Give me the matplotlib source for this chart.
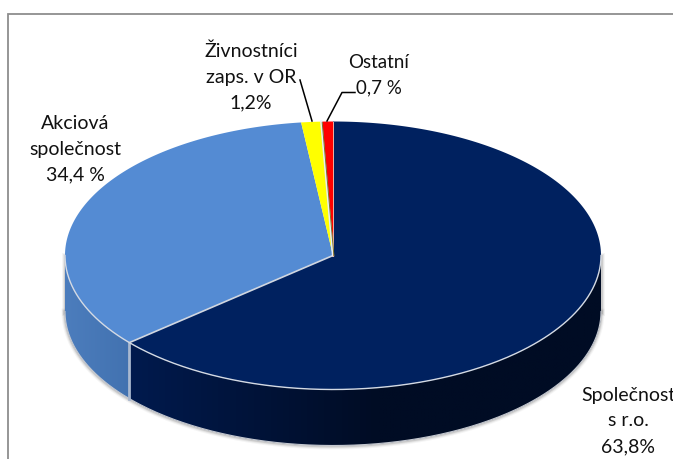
import numpy as np
import matplotlib
matplotlib.use("Agg")
import matplotlib.pyplot as plt
from matplotlib.colors import to_rgb

categories = ["Společnost\ns r.o.\n63,8%", "Akciová\nspolečnost\n34,4 %", "Živnostníci\nzaps. v OR\n1,2%", "Ostatní\n0,7 %"]
shares = [63.8, 34.4, 1.2, 0.7]
top_colors = ["#00215f", "#548bd3", "#ffff00", "#ff0000"]
side_left = ["#001a4e", "#4c7dbd", "#b0b000", "#b00000"]
side_right = ["#000c24", "#4272b0", "#b0b000", "#b00000"]

W, H = 673, 459
CX, CY, RX, RY, DEPTH = 333.0, 255.5, 268.0, 134.0, 56.0

fig = plt.figure(figsize=(W / 100, H / 100), dpi=100, facecolor="white")
ax = fig.add_axes([0, 0, 1, 1])
ax.axis("off")
plt.rcParams["font.family"] = ["Lato", "DejaVu Sans"]

# chart frame
ax.plot([8, 8, W + 5], [H + 5, 13.5, 13.5], color="#8e8e8e", lw=1.3, solid_joinstyle="miter", zorder=1)

fracs = np.array(shares) / np.sum(shares)
edges = np.concatenate([[0], np.cumsum(fracs)]) * 2 * np.pi


def ex(a):
    return CX + RX * np.sin(a)


def ey(a):
    return CY - RY * np.cos(a)


# soft shadow round the side wall
front = np.linspace(np.pi / 2, 3 * np.pi / 2, 300)
for lw, alpha in [(5, 0.06), (3.5, 0.10), (2, 0.18)]:
    ax.plot(ex(front), ey(front) + DEPTH + 0.5, color="#555555", alpha=alpha, lw=lw, zorder=2)
    ax.plot([ex(front[0])] * 2, [CY, CY + DEPTH], color="#555555", alpha=alpha, lw=lw, zorder=2)
    ax.plot([ex(front[-1])] * 2, [CY, CY + DEPTH], color="#555555", alpha=alpha, lw=lw, zorder=2)

# side wall: one shape per slice, filled with a horizontal gradient
for i, (a0, a1) in enumerate(zip(edges[:-1], edges[1:])):
    lo, hi = max(a0, np.pi / 2), min(a1, 3 * np.pi / 2)
    if hi <= lo:
        continue
    s = np.linspace(lo, hi, 300)
    px = np.r_[ex(s), ex(s)[::-1]]
    py = np.r_[ey(s), ey(s)[::-1] + DEPTH]
    shape = ax.fill(px, py, color=side_right[i], lw=0, zorder=3)[0]
    c0, c1 = np.array(to_rgb(side_left[i])), np.array(to_rgb(side_right[i]))
    t = np.linspace(0, 1, 256)
    if i == 0:
        t = np.minimum(1, t * 1.9)
    grad = (c0[None, :] + (c1 - c0)[None, :] * t[:, None])[None, :, :]
    im = ax.imshow(grad, extent=[px.min(), px.max(), py.max(), py.min()], aspect="auto",
                   interpolation="bilinear", zorder=3.5)
    im.set_clip_path(shape)

ax.set_xlim(0, W)
ax.set_ylim(H, 0)

# outer and separating edges of the wall
ax.plot(ex(front), ey(front) + DEPTH, color="#c4c8d0", lw=0.8, zorder=4)
ax.plot([ex(edges[1])] * 2, [ey(edges[1]) + 1, ey(edges[1]) + DEPTH],
        color="#a9b8cf", lw=2.0, zorder=4)

# top surface
for i, (a0, a1) in enumerate(zip(edges[:-1], edges[1:])):
    t = np.linspace(a0, a1, 300)
    ax.fill(np.r_[CX, ex(t)], np.r_[CY, ey(t)], color=top_colors[i], lw=0, zorder=5)

# bevel: pale lines between slices and along the front rim
ax.plot(ex(front), ey(front), color="#d4dae4", lw=1.0, zorder=6)
ax.plot([CX, ex(edges[1])], [CY, ey(edges[1])], color="#d0d6e0", lw=1.2, zorder=6)
ax.plot([CX, ex(edges[3])], [CY, ey(edges[3])], color="#e8edf5", lw=1.6, zorder=6)
ax.plot([CX + 0.9, ex(edges[3]) + 1.0], [CY, ey(edges[3]) + 1], color="#77752a", lw=0.7, zorder=7)
ax.plot([CX, CX], [CY, ey(0)], color="#f4b0a0", lw=0.7, zorder=6)

# leader lines
ax.plot([300, 312], [80, 121], color="black", lw=1.1, zorder=8)
ax.plot([355, 342, 327], [92.5, 92.5, 121], color="black", lw=1.1, zorder=8)

# labels
lab = dict(ha="center", va="center", fontsize=14.0, color="#111111", linespacing=1.6,
           family=["Lato", "DejaVu Sans"], zorder=9)
ax.text(628, 421, categories[0], clip_on=True, **lab)
ax.text(75, 149, categories[1], **lab)
ax.text(251, 77, categories[2], **lab)
ax.text(379, 75.5, categories[3], fontsize=13.5, **{k: v for k, v in lab.items() if k != "fontsize"})

fig.savefig("out.png", dpi=100, facecolor="white")
